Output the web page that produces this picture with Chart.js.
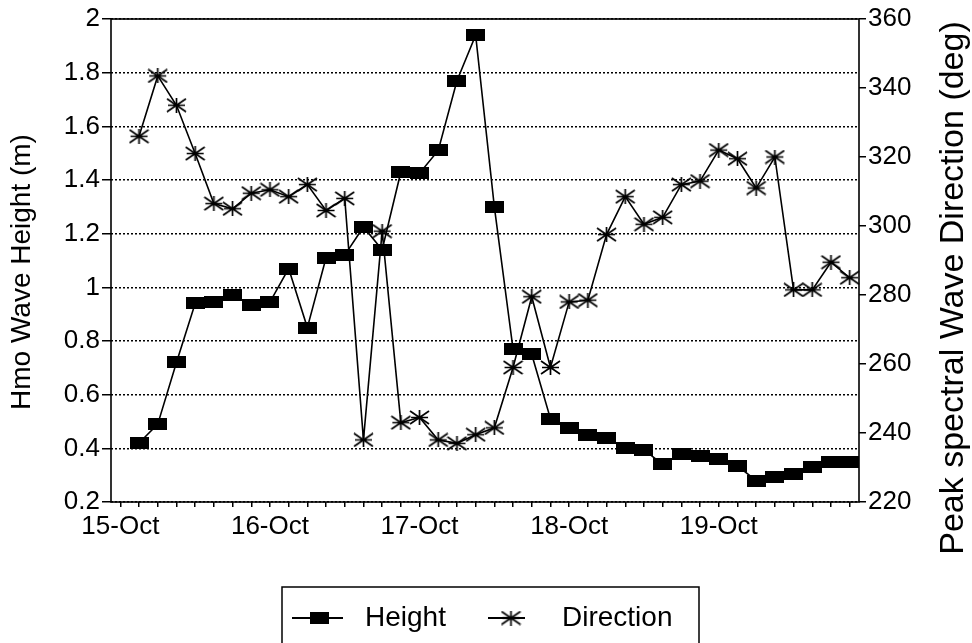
<!DOCTYPE html>
<html><head><meta charset="utf-8">
<script src="https://cdn.jsdelivr.net/npm/chart.js@4/dist/chart.umd.min.js"></script>
<style>html,body{margin:0;padding:0;background:#fff;}canvas{display:block;}</style>
</head><body>
<canvas id="c" width="972" height="643"></canvas>
<script>
// ---- data ----
const dayLabels = ['15-Oct', '16-Oct', '17-Oct', '18-Oct', '19-Oct'];
const hourLabels = ['00:00', '03:00', '06:00', '09:00', '12:00', '15:00', '18:00', '21:00'];
const heightValues = [null, 0.42, 0.49, 0.72, 0.94, 0.945, 0.97, 0.935, 0.945, 1.07, 0.85, 1.11, 1.12, 1.225, 1.14,
  1.43, 1.425, 1.51, 1.77, 1.94, 1.30, 0.77, 0.75, 0.51, 0.475, 0.45, 0.44, 0.40, 0.395, 0.34, 0.38, 0.37, 0.36,
  0.335, 0.28, 0.295, 0.305, 0.33, 0.35, 0.35];
const directionValues = [null, 326, 343.5, 335, 321, 306.5, 305, 309.5, 310.5, 308.5, 312, 304.5, 308, 238, 298.5,
  243, 244.5, 238, 237, 239.5, 241.5, 259, 279.5, 259, 278, 278.5, 297.5, 308.5, 300.5, 302.5, 312, 313, 322,
  319.5, 311, 320, 281.5, 281.5, 289.5, 285];
const heightRange = [0.2, 2.0, 0.2];       // min, max, step
const directionRange = [220, 360, 20];     // min, max, step
const seriesNames = ['Height', 'Direction'];
const leftTitle = 'Hmo Wave Height (m)';
const rightTitle = 'Peak spectral Wave Direction (deg)';

const categories = dayLabels.flatMap(d => hourLabels.map(h => d + ' ' + h));

const FONT = '"Liberation Sans", Arial, Helvetica, sans-serif';

function rectMarker() {
  const c = document.createElement('canvas'); c.width = 19; c.height = 12;
  const g = c.getContext('2d'); g.fillStyle = '#000'; g.fillRect(0, 0, 19, 12); return c;
}
function starMarker() {
  const c = document.createElement('canvas'); c.width = 21; c.height = 15;
  const g = c.getContext('2d'); g.strokeStyle = '#000'; g.lineWidth = 1.7; g.beginPath();
  g.moveTo(1, 1); g.lineTo(20, 14); g.moveTo(20, 1); g.lineTo(1, 14);
  g.moveTo(10.5, 0); g.lineTo(10.5, 15); g.moveTo(2, 7.5); g.lineTo(19, 7.5);
  g.stroke(); return c;
}
const rectImg = rectMarker(), starImg = starMarker();

const decor = {
  id: 'decor',
  afterDraw(chart) {
    const { ctx, chartArea: a } = chart;
    ctx.save();
    ctx.strokeStyle = '#000'; ctx.lineWidth = 1.6;
    ctx.strokeRect(a.left, a.top, a.right - a.left, a.bottom - a.top);
    ctx.fillStyle = '#000'; ctx.textAlign = 'center'; ctx.textBaseline = 'middle';
    // left title
    ctx.save(); ctx.font = '28px ' + FONT; ctx.translate(22, 272); ctx.rotate(-Math.PI / 2);
    ctx.fillText(leftTitle, 0, 0); ctx.restore();
    // right title
    ctx.save(); ctx.font = '34px ' + FONT; ctx.translate(954, 288); ctx.rotate(-Math.PI / 2);
    ctx.fillText(rightTitle, 0, 0); ctx.restore();
    // legend box
    ctx.lineWidth = 1.5;
    ctx.beginPath(); ctx.moveTo(282, 650); ctx.lineTo(282, 587); ctx.lineTo(699, 587); ctx.lineTo(699, 650); ctx.stroke();
    const ly = 618;
    const ds = chart.data.datasets;
    ctx.lineWidth = 1.8;
    ctx.beginPath(); ctx.moveTo(292, ly); ctx.lineTo(343, ly); ctx.stroke();
    ctx.drawImage(rectImg, 319 - rectImg.width / 2, ly - rectImg.height / 2);
    ctx.beginPath(); ctx.moveTo(488, ly); ctx.lineTo(525, ly); ctx.stroke();
    ctx.drawImage(starImg, 511 - starImg.width / 2, ly - starImg.height / 2);
    ctx.font = '28px ' + FONT; ctx.textAlign = 'left';
    ctx.fillText(ds[0].label, 365, ly);
    ctx.fillText(ds[1].label, 562, ly);
    ctx.restore();
  }
};

new Chart(document.getElementById('c'), {
  type: 'line',
  data: {
    labels: categories,
    datasets: [
      { label: seriesNames[0], data: heightValues, yAxisID: 'y', borderColor: '#000', borderWidth: 1.6,
        pointStyle: rectImg, pointRadius: 8, spanGaps: false, tension: 0 },
      { label: seriesNames[1], data: directionValues, yAxisID: 'y2', borderColor: '#000', borderWidth: 1.6,
        pointStyle: starImg, pointRadius: 8, spanGaps: false, tension: 0 }
    ]
  },
  options: {
    responsive: false, animation: false, devicePixelRatio: 1, events: [],
    layout: { padding: { top: 19, left: 0, right: 0, bottom: 0 } },
    plugins: { legend: { display: false }, tooltip: { enabled: false } },
    scales: {
      x: {
        type: 'category', offset: true,
        afterFit: s => { s.height = 141; },
        grid: { drawOnChartArea: false, drawTicks: true, tickLength: 5, offset: false, color: '#000', lineWidth: 1.5 },
        border: { display: false },
        ticks: { autoSkip: false, maxRotation: 0, minRotation: 0, padding: 4, color: '#000',
          font: { family: FONT, size: 26 },
          callback: (v, i) => (i % hourLabels.length === 0 ? dayLabels[i / hourLabels.length] : '') }
      },
      y: {
        position: 'left', min: heightRange[0], max: heightRange[1],
        afterFit: s => { s.width = 111; },
        grid: { drawOnChartArea: true, drawTicks: true, tickLength: 9, color: '#000', lineWidth: 1.5,
          tickBorderDash: [], tickColor: '#000' },
        border: { display: false, dash: [2, 2] },
        ticks: { stepSize: heightRange[2], padding: 2, color: '#000', font: { family: FONT, size: 26 },
          callback: v => String(Math.round(v * 10) / 10) }
      },
      y2: {
        position: 'right', min: directionRange[0], max: directionRange[1],
        afterFit: s => { s.width = 113; },
        grid: { drawOnChartArea: false, drawTicks: true, tickLength: 7, color: '#000', lineWidth: 1.5 },
        border: { display: false },
        ticks: { stepSize: directionRange[2], padding: 2, color: '#000', font: { family: FONT, size: 26 } }
      }
    }
  },
  plugins: [decor]
});
</script>
</body></html>
